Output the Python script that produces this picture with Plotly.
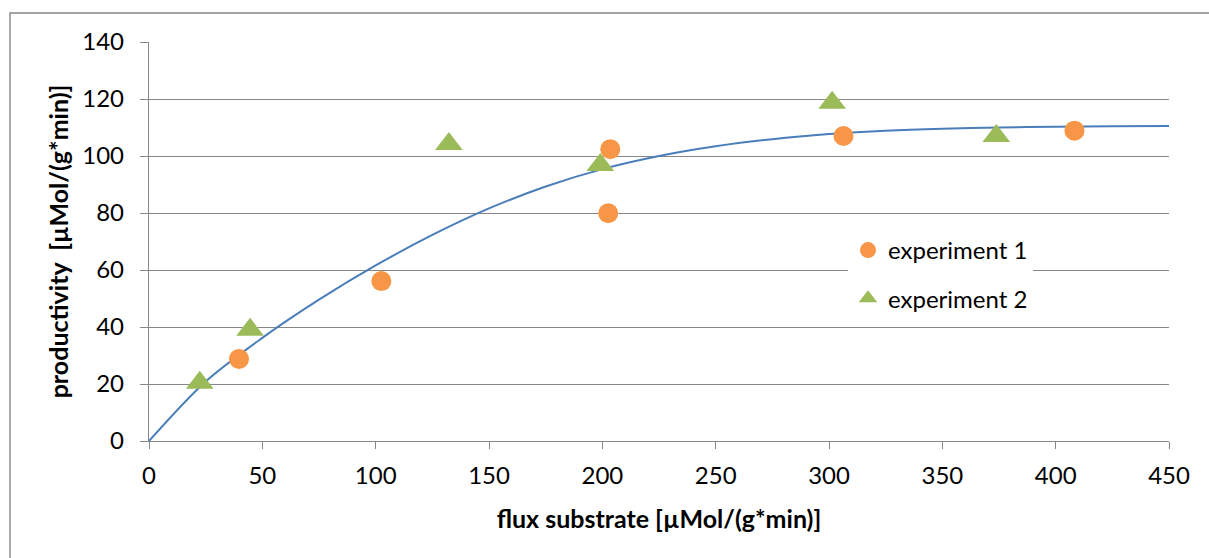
import plotly.graph_objects as go

# ---- data ----
exp1_x = [39.7, 102.5, 203.5, 202.6, 306.4, 408.3]
exp1_y = [28.8, 56.1, 102.4, 79.9, 107.0, 108.9]

exp2_x = [22.4, 44.6, 132.3, 199.1, 301.4, 373.8]
exp2_y = [20.4, 39.0, 104.2, 96.8, 118.7, 107.0]

fit_x = [0, 25, 50, 75, 100, 125, 150, 175, 200, 225, 250, 275, 300, 325, 350, 375, 400, 425, 450]
fit_y = [0, 20.9, 36.2, 49.6, 61.6, 72.3, 81.6, 89.3, 95.4, 100.0, 103.4, 105.9, 107.7, 108.9, 109.6, 110.0, 110.3, 110.4, 110.5]

x_ticks = [0, 50, 100, 150, 200, 250, 300, 350, 400, 450]
y_ticks = [0, 20, 40, 60, 80, 100, 120, 140]

x_title = "flux substrate [µMol/(g*min)]"
y_title = "productivity \u00a0[µMol/(g*min)]"
names = ["experiment 1", "experiment 2"]

# ---- styling ----
FONT = "Lato, 'Open Sans', sans-serif"
GRID = "#878787"
W, H = 1209, 558
L, R, T, B = 149, 40, 42, 117
pw, ph = W - L - R, H - T - B

fig = go.Figure()
fig.add_trace(go.Scatter(
    x=fit_x, y=fit_y, mode="lines", line=dict(color="#4A7EBB", width=2, shape="spline", smoothing=0.9),
    showlegend=False, hoverinfo="skip", cliponaxis=False))
fig.add_trace(go.Scatter(
    x=exp1_x, y=exp1_y, mode="markers", name=names[0], legendgroup="g1",
    marker=dict(symbol="circle", size=20, color="#F79646", line=dict(width=0)), cliponaxis=False))
fig.add_trace(go.Scatter(
    x=exp2_x, y=exp2_y, mode="markers", name=names[1], legendgroup="g2",
    marker=dict(symbol="triangle-up", size=24, color="#9BBB59", line=dict(width=0)), cliponaxis=False))

# outer chart border (extends past right / bottom edges as in reference)
fig.add_shape(type="rect", xref="paper", yref="paper",
              x0=(10 - L) / pw, x1=(W + 5 - L) / pw,
              y0=-(H + 5 - (H - B)) / ph, y1=1 + (T - 13) / ph,
              line=dict(color=GRID, width=1.4), fillcolor="rgba(0,0,0,0)", layer="below")

fig.update_layout(
    width=W, height=H,
    margin=dict(l=L, r=R, t=T, b=B, autoexpand=False),
    paper_bgcolor="white", plot_bgcolor="white",
    font=dict(family=FONT, color="#000000", size=24),
    showlegend=True,
    legend=dict(
        x=(848 - L) / pw, y=((H - B) - 228) / ph, xanchor="left", yanchor="top",
        bgcolor="white", borderwidth=0, traceorder="grouped", tracegroupgap=14,
        font=dict(family=FONT, size=24, color="#000000"), itemwidth=30,
    ),
    xaxis=dict(
        range=[0, 450], tickmode="array", tickvals=x_ticks, ticktext=[str(v) for v in x_ticks],
        showgrid=False, zeroline=False, showline=True, linecolor=GRID, linewidth=1.4,
        ticks="outside", ticklen=7, tickcolor=GRID, tickwidth=1.4,
        tickfont=dict(family=FONT, size=24, color="#000000"), ticklabelstandoff=6,
        title=dict(text="<b>" + x_title + "</b>", font=dict(family=FONT, size=25, color="#000000"), standoff=22),
        automargin=False,
    ),
    yaxis=dict(
        range=[0, 140], tickmode="array", tickvals=y_ticks, ticktext=[str(v) for v in y_ticks],
        showgrid=True, gridcolor=GRID, gridwidth=1.4, zeroline=False,
        showline=True, linecolor=GRID, linewidth=1.4,
        ticks="outside", ticklen=8, tickcolor=GRID, tickwidth=1.4,
        tickfont=dict(family=FONT, size=24, color="#000000"), ticklabelstandoff=11,
        title=dict(text="<b>" + y_title + "</b>", font=dict(family=FONT, size=25, color="#000000"), standoff=6),
        automargin=False,
    ),
)

fig.write_html("out.html")
